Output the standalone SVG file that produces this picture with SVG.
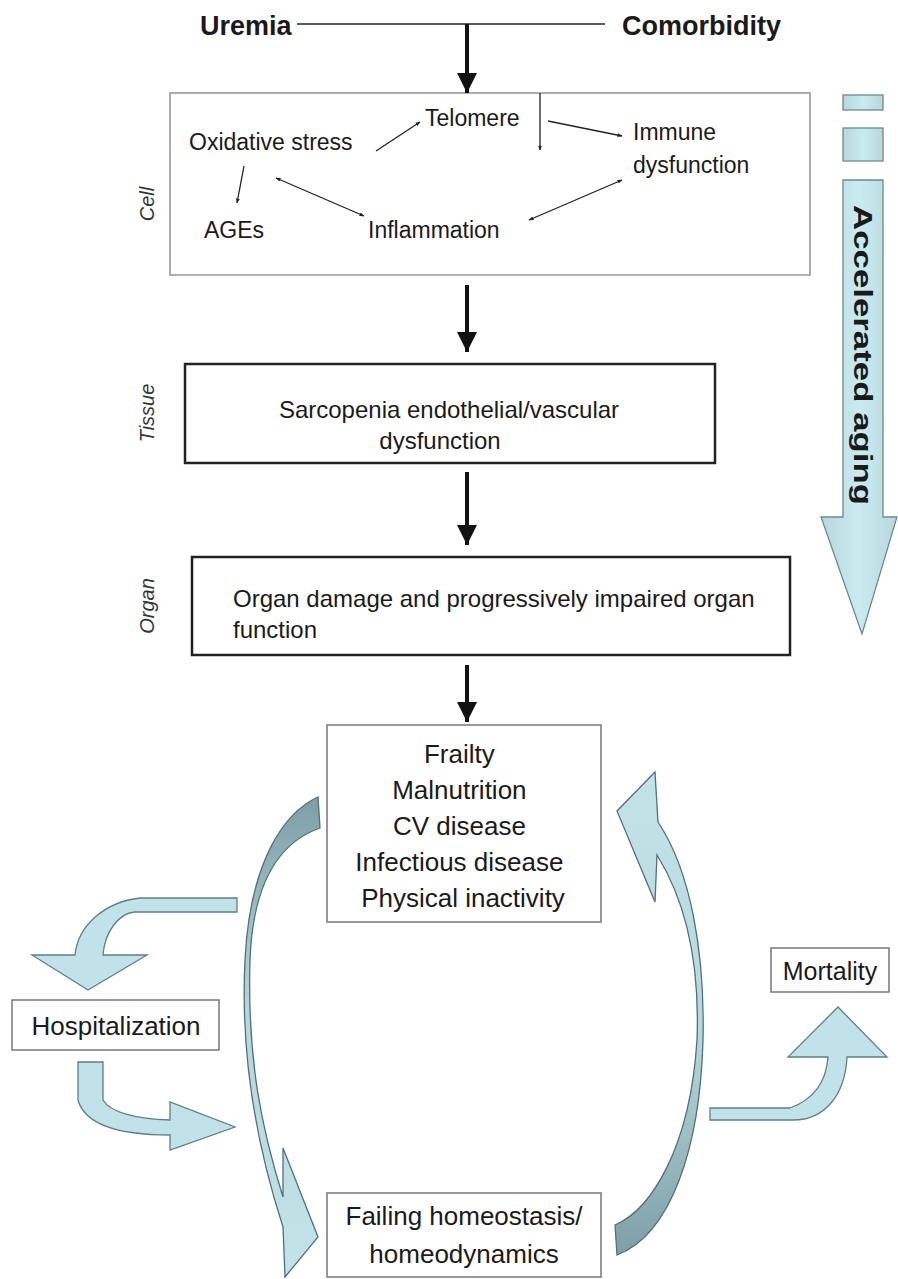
<svg xmlns="http://www.w3.org/2000/svg" width="898" height="1279" viewBox="0 0 898 1279">
<defs>
<style>
.t{font-family:"Liberation Sans",Arial,sans-serif;fill:#1a1a1a}
.b{font-weight:bold}
.lab{font-family:"Liberation Sans",Arial,sans-serif;font-style:italic;font-size:20px;fill:#333}
.thin{stroke:#222;stroke-width:1.3;fill:none}
.thick{stroke:#111;stroke-width:4;fill:none}
.blue{fill:#c0e2e8;stroke:#5f7f85;stroke-width:1.3}
</style>
<marker id="ah" viewBox="0 0 10 10" refX="9" refY="5" markerWidth="5" markerHeight="5" orient="auto-start-reverse" markerUnits="userSpaceOnUse">
<path d="M0,1 L10,5 L0,9 Z" fill="#222"/>
</marker>
<marker id="big" viewBox="0 0 10 10" refX="10" refY="5" markerWidth="22" markerHeight="20" orient="auto" markerUnits="userSpaceOnUse">
<path d="M0,0 L10,5 L0,10 Z" fill="#111"/>
</marker>
<linearGradient id="gl" x1="0" y1="0" x2="0" y2="1">
<stop offset="0" stop-color="#7e9fa5"/>
<stop offset="0.45" stop-color="#b7d7dd"/>
<stop offset="1" stop-color="#c3e3e9"/>
</linearGradient>
<linearGradient id="gr" x1="0" y1="0" x2="0" y2="1">
<stop offset="0" stop-color="#c3e3e9"/>
<stop offset="0.55" stop-color="#b7d7dd"/>
<stop offset="1" stop-color="#7e9fa5"/>
</linearGradient>
<linearGradient id="ga" x1="0" y1="0" x2="1" y2="0">
<stop offset="0" stop-color="#b9d6dc"/>
<stop offset="0.5" stop-color="#c9ecf1"/>
<stop offset="1" stop-color="#b9d6dc"/>
</linearGradient>
</defs>
<rect width="898" height="1279" fill="#fff"/>

<g id="uremia"><text class="t b" x="200" y="35" font-size="27">Uremia</text></g>
<g id="comorbidity"><text class="t b" x="622" y="35" font-size="27">Comorbidity</text></g>

<g id="cell">
<rect x="170" y="93" width="640" height="182" fill="#fff" stroke="#9a9a9a" stroke-width="1.6"/>
<text class="t" x="425" y="126" font-size="23">Telomere</text>
<text class="t" x="189" y="150" font-size="23">Oxidative stress</text>
<text class="t" x="633" y="140" font-size="23">Immune</text>
<text class="t" x="633" y="173" font-size="23">dysfunction</text>
<text class="t" x="204" y="238" font-size="23">AGEs</text>
<text class="t" x="368" y="238" font-size="23">Inflammation</text>
</g>
<g id="cell-label"><text class="lab" transform="translate(154,204) rotate(-90)" text-anchor="middle">Cell</text></g>

<g id="tissue">
<rect x="185" y="364" width="530" height="99" fill="#fff" stroke="#222" stroke-width="2.5"/>
<text class="t" x="449" y="418" font-size="24" text-anchor="middle">Sarcopenia endothelial/vascular</text>
<text class="t" x="440" y="449" font-size="24" text-anchor="middle">dysfunction</text>
</g>
<g id="tissue-label"><text class="lab" transform="translate(154,413) rotate(-90)" text-anchor="middle">Tissue</text></g>

<g id="organ">
<rect x="192" y="557" width="598" height="98" fill="#fff" stroke="#222" stroke-width="2.5"/>
<text class="t" x="233" y="607" font-size="24">Organ damage and progressively impaired organ</text>
<text class="t" x="233" y="638" font-size="24">function</text>
</g>
<g id="organ-label"><text class="lab" transform="translate(154,606) rotate(-90)" text-anchor="middle">Organ</text></g>

<g id="accelerated-aging">
<rect x="843" y="95" width="40" height="15" fill="url(#ga)" stroke="#6b8a8f" stroke-width="1.3"/>
<rect x="843" y="128" width="40" height="33" fill="url(#ga)" stroke="#6b8a8f" stroke-width="1.3"/>
<path d="M843,180 L883,180 L883,517 L897,517 L862,634 L821,517 L843,517 Z" fill="url(#ga)" stroke="#6b8a8f" stroke-width="1.3"/>
<text class="t b" font-size="25" transform="translate(854,205) rotate(90)" textLength="300" lengthAdjust="spacingAndGlyphs">Accelerated aging</text>
</g>

<g id="outcomes">
<rect x="327" y="725" width="274" height="197" fill="#fff" stroke="#777" stroke-width="1.5"/>
<text class="t" font-size="26" text-anchor="middle">
<tspan x="463" y="763">Frailty</tspan>
<tspan x="463" y="799">Malnutrition</tspan>
<tspan x="463" y="835">CV disease</tspan>
<tspan x="463" y="871">Infectious disease</tspan>
<tspan x="463" y="907">Physical inactivity</tspan>
</text>
</g>

<g id="hospitalization">
<rect x="12" y="1000" width="207" height="50" fill="#fff" stroke="#777" stroke-width="1.5"/>
<text class="t" x="116" y="1035" font-size="26" text-anchor="middle">Hospitalization</text>
</g>

<g id="mortality">
<rect x="771" y="948" width="118" height="44" fill="#fff" stroke="#777" stroke-width="1.5"/>
<text class="t" x="830" y="980" font-size="25" text-anchor="middle">Mortality</text>
</g>

<g id="failing">
<rect x="327" y="1193" width="274" height="84" fill="#fff" stroke="#777" stroke-width="1.5"/>
<text class="t" x="464" y="1225" font-size="26" text-anchor="middle">Failing homeostasis/</text>
<text class="t" x="464" y="1263" font-size="26" text-anchor="middle">homeodynamics</text>
</g>

<g id="connectors">
<line class="thin" x1="297" y1="24" x2="605" y2="24" stroke-width="2"/>
<line class="thick" x1="467" y1="24" x2="467" y2="93" marker-end="url(#big)"/>
<line class="thick" x1="467" y1="285" x2="467" y2="352" marker-end="url(#big)"/>
<line class="thick" x1="467" y1="472" x2="467" y2="545" marker-end="url(#big)"/>
<line class="thick" x1="467" y1="665" x2="467" y2="722" marker-end="url(#big)"/>

<line class="thin" x1="540" y1="93" x2="540" y2="150" marker-end="url(#ah)"/>
<line class="thin" x1="376" y1="151" x2="420" y2="122" marker-end="url(#ah)"/>
<line class="thin" x1="548" y1="121" x2="622" y2="136" marker-end="url(#ah)"/>
<line class="thin" x1="244" y1="166" x2="237" y2="203" marker-end="url(#ah)"/>
<line class="thin" x1="276" y1="178" x2="364" y2="216" marker-start="url(#ah)" marker-end="url(#ah)"/>
<line class="thin" x1="622" y1="180" x2="529" y2="220" marker-start="url(#ah)" marker-end="url(#ah)"/>

<path id="left-crescent" d="M318,797 C285,812 250,860 245,960 C240,1060 258,1150 283,1227 L285,1277 L318,1237 L283,1148 L283,1197 C262,1130 247,1060 250,960 C253,880 280,842 320,828 Z" fill="url(#gl)" stroke="#50707a" stroke-width="1.3"/>
<path id="right-crescent" d="M615,1225 C650,1210 690,1150 697,1040 C700,960 685,900 657,855 L655,902 L617,811 L655,772 L658,822 C690,870 705,950 703,1040 C700,1150 670,1235 617,1255 Z" fill="url(#gr)" stroke="#50707a" stroke-width="1.3"/>
<path id="to-hospitalization" class="blue" d="M237,898 L140,898 C105,902 78,925 75,955 L32,955 L88,990 L147,955 L103,955 C105,930 120,913 135,912 L237,912 Z"/>
<path id="from-hospitalization" class="blue" d="M78,1062 L103,1062 L103,1100 C110,1112 135,1119 170,1120 L170,1102 L235,1127 L170,1150 L170,1135 C120,1135 85,1125 78,1100 Z"/>
<path id="to-mortality" class="blue" d="M710,1108 L790,1108 C812,1100 826,1085 828,1057 L788,1057 L838,1007 L887,1057 L847,1057 C845,1095 825,1120 793,1120 L710,1120 Z"/>
</g>
</svg>
